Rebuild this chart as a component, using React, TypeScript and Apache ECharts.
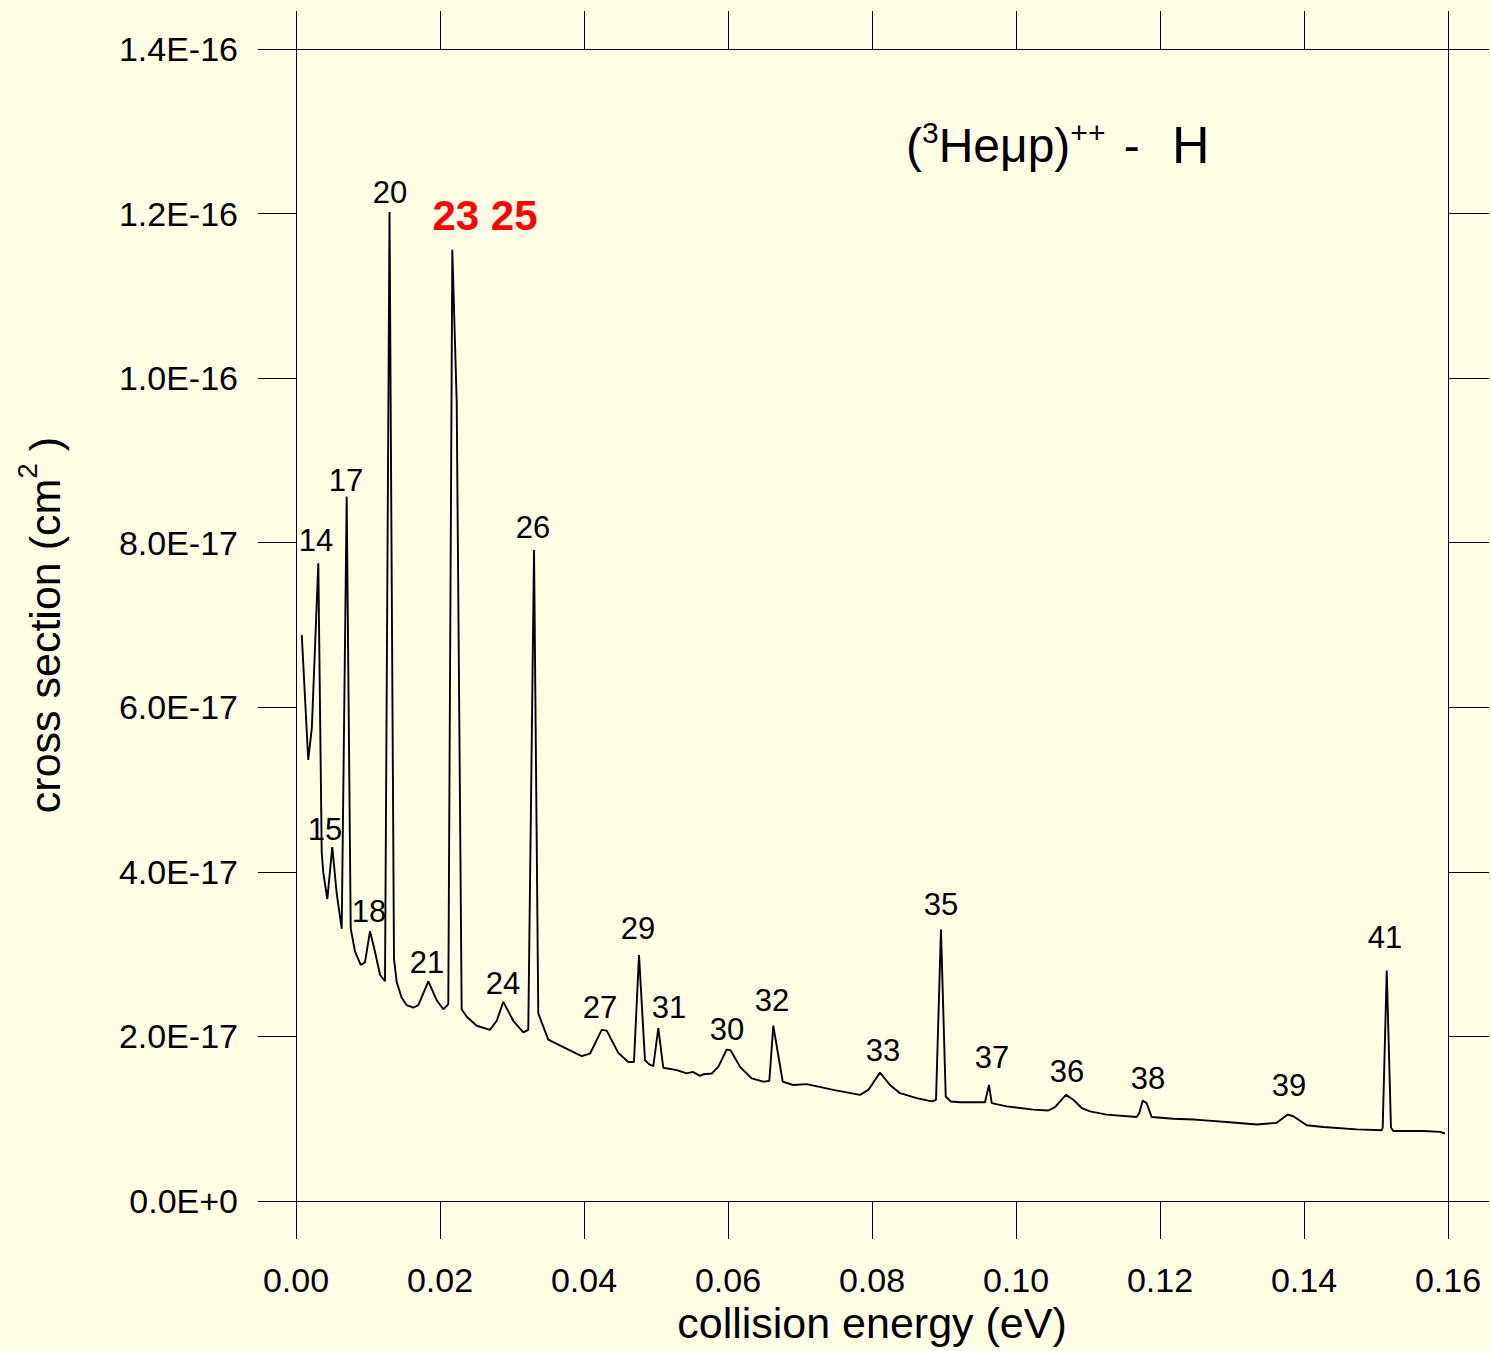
import React, { useEffect, useRef } from "react";
import * as echarts from "echarts";

// collision energy (eV)
const energy = [
  0.0008, 0.0017, 0.0022, 0.0031, 0.00357, 0.00379, 0.00435, 0.00504, 0.00565, 0.00635,
  0.00704, 0.0076, 0.0082, 0.00899, 0.00958, 0.01028, 0.01097, 0.01167, 0.01236, 0.01299,
  0.01361, 0.01399, 0.01468, 0.01538, 0.01629, 0.01699, 0.01838, 0.01954, 0.02046, 0.02115,
  0.02171, 0.02232, 0.02301, 0.02371, 0.0251, 0.02694, 0.02788, 0.02879, 0.03018, 0.03157,
  0.03226, 0.03306, 0.03365, 0.03504, 0.03713, 0.03968, 0.04083, 0.04246, 0.04315, 0.04476,
  0.04615, 0.04694, 0.04764, 0.04847, 0.04907, 0.04963, 0.05032, 0.05101, 0.05288, 0.05426,
  0.0551, 0.05611, 0.05657, 0.05774, 0.05865, 0.05982, 0.06038, 0.06167, 0.06329, 0.0649,
  0.06574, 0.06629, 0.0676, 0.06907, 0.07093, 0.07463, 0.07833, 0.07949, 0.08111, 0.0825,
  0.08389, 0.08621, 0.08829, 0.08889, 0.08958, 0.09024, 0.09093, 0.09222, 0.09569, 0.09625,
  0.09663, 0.09871, 0.1024, 0.10449, 0.10542, 0.10694, 0.10796, 0.10913, 0.11028, 0.1126,
  0.11676, 0.11713, 0.1176, 0.11815, 0.11885, 0.12185, 0.12463, 0.12625, 0.12926, 0.13343,
  0.13621, 0.13774, 0.13851, 0.14038, 0.14268, 0.14732, 0.15079, 0.15093, 0.15149, 0.15208,
  0.1524, 0.15426, 0.15657, 0.15889, 0.15958,
];

// cross section, in units of 1E-17 cm^2
const crossSection = [
  6.88, 5.36, 5.75, 7.75, 4.24, 3.99, 3.67, 4.3, 3.74, 3.31,
  8.56, 3.31, 3.03, 2.87, 2.9, 3.28, 3.03, 2.75, 2.67, 12.02,
  2.94, 2.66, 2.47, 2.38, 2.35, 2.38, 2.67, 2.44, 2.33, 2.39,
  11.56, 9.71, 2.33, 2.24, 2.13, 2.08, 2.19, 2.42, 2.19, 2.05,
  2.08, 7.91, 2.28, 1.96, 1.87, 1.76, 1.79, 2.08, 2.07, 1.8,
  1.69, 1.69, 2.99, 1.71, 1.66, 1.64, 2.1, 1.62, 1.59, 1.55,
  1.57, 1.52, 1.54, 1.55, 1.63, 1.84, 1.83, 1.63, 1.49, 1.45,
  1.46, 2.13, 1.45, 1.41, 1.42, 1.35, 1.29, 1.35, 1.56, 1.41,
  1.31, 1.25, 1.21, 1.23, 3.3, 1.27, 1.21, 1.2, 1.2, 1.41,
  1.19, 1.15, 1.11, 1.1, 1.14, 1.29, 1.23, 1.13, 1.09, 1.05,
  1.02, 1.07, 1.22, 1.19, 1.02, 1.0, 0.99, 0.98, 0.96, 0.93,
  0.95, 1.05, 1.03, 0.92, 0.9, 0.87, 0.86, 0.89, 2.8, 0.89,
  0.85, 0.85, 0.85, 0.84, 0.82,
];

// resonance labels and their anchor positions (energy, cross section in 1E-17)
const peakNames = ["14", "15", "17", "18", "20", "21", "24", "26", "27", "29", "31", "30", "32", "33", "35", "37", "36", "38", "39", "41"];
const peakLabelE = [0.00278, 0.00403, 0.00694, 0.01014, 0.01306, 0.01819, 0.02875, 0.03292, 0.04222, 0.0475, 0.05181, 0.05986, 0.06611, 0.08153, 0.08958, 0.09667, 0.10708, 0.11833, 0.13792, 0.15125];
const peakLabelV = [8.03, 4.51, 8.76, 3.52, 12.26, 2.9, 2.64, 8.19, 2.35, 3.31, 2.35, 2.09, 2.44, 1.83, 3.6, 1.75, 1.57, 1.49, 1.4, 3.2];

const highlightNames = ["23 25"];
const highlightE = [0.02625];
const highlightV = [11.98];

const xTicks = { min: 0, max: 0.16, interval: 0.02 };
const yTicks = { min: 0, max: 14, interval: 2 };
const yTickLabels: Record<number, string> = {
  0: "0.0E+0",
  2: "2.0E-17",
  4: "4.0E-17",
  6: "6.0E-17",
  8: "8.0E-17",
  10: "1.0E-16",
  12: "1.2E-16",
  14: "1.4E-16",
};

const FONT = "'Liberation Sans', Arial, Helvetica, sans-serif";
const BG = "#ffffe6";

export default function App() {
  const ref = useRef<HTMLDivElement>(null);

  useEffect(() => {
    if (!ref.current) return;
    const chart = echarts.init(ref.current, undefined, { renderer: "svg" });

    const lineData = energy.map((e, i) => [e, crossSection[i]]);
    const labelData = peakNames.map((n, i) => ({ name: n, value: [peakLabelE[i], peakLabelV[i]] }));
    const hlData = highlightNames.map((n, i) => ({ name: n, value: [highlightE[i], highlightV[i]] }));

    const axisLine = { show: true, onZero: false, lineStyle: { color: "#000", width: 1 } };
    const tick = (len: number) => ({ show: true, inside: false, length: len, lineStyle: { color: "#000", width: 1 } });
    const tok = (size: number) => ({ fontSize: size, lineHeight: 56, fill: "#000", fontFamily: FONT, verticalAlign: "middle" });

    chart.setOption({
      animation: false,
      backgroundColor: BG,
      textStyle: { fontFamily: FONT },
      grid: { left: 296, right: 43, top: 49, bottom: 150, containLabel: false },
      xAxis: [
        {
          type: "value",
          position: "bottom",
          ...xTicks,
          axisLine,
          axisTick: tick(38),
          axisLabel: {
            show: true,
            margin: 62,
            fontSize: 34,
            color: "#000",
            fontFamily: FONT,
            formatter: (v: number) => v.toFixed(2),
          },
          splitLine: { show: false },
          name: "collision energy (eV)",
          nameLocation: "middle",
          nameGap: 95,
          nameTextStyle: { fontSize: 43, color: "#000", fontFamily: FONT },
        },
        {
          type: "value",
          position: "top",
          ...xTicks,
          axisLine,
          axisTick: tick(38),
          axisLabel: { show: false },
          splitLine: { show: false },
        },
      ],
      yAxis: [
        {
          type: "value",
          position: "left",
          ...yTicks,
          axisLine,
          axisTick: tick(38),
          axisLabel: {
            show: true,
            margin: 58,
            fontSize: 34,
            color: "#000",
            fontFamily: FONT,
            formatter: (v: number) => yTickLabels[Math.round(v)] ?? "",
          },
          splitLine: { show: false },
          name: "{a|cross section (cm}{s|2}{a| )}",
          nameLocation: "middle",
          nameGap: 219,
          nameRotate: 90,
          nameTextStyle: {
            color: "#000",
            fontFamily: FONT,
            rich: {
              a: { fontSize: 43, lineHeight: 64, color: "#000", fontFamily: FONT, verticalAlign: "middle" },
              s: { fontSize: 28, lineHeight: 28, color: "#000", fontFamily: FONT, verticalAlign: "top" },
            },
          },
        },
        {
          type: "value",
          position: "right",
          ...yTicks,
          axisLine,
          axisTick: tick(41),
          axisLabel: { show: false },
          splitLine: { show: false },
        },
      ],
      graphic: [
        {
          type: "text",
          x: 906,
          y: 145,
          style: {
            text: "{a|(}{s|3}{a|Heμp)}{s|++}{g| }{a|-}{k|  }{h|H}",
            align: "left",
            verticalAlign: "middle",
            fill: "#000",
            rich: {
              a: tok(48),
              g: tok(66),
              k: tok(58),
              h: tok(52),
              s: { fontSize: 30, lineHeight: 30, fill: "#000", fontFamily: FONT, verticalAlign: "top" },
            },
          },
        },
      ],
      series: [
        {
          type: "line",
          data: lineData,
          xAxisIndex: 0,
          yAxisIndex: 0,
          showSymbol: false,
          symbol: "none",
          lineStyle: { color: "#000", width: 1.9 },
          clip: true,
          z: 3,
        },
        {
          type: "scatter",
          data: labelData,
          xAxisIndex: 0,
          yAxisIndex: 0,
          symbolSize: 0,
          silent: true,
          itemStyle: { opacity: 1 },
          label: {
            show: true,
            position: "inside",
            formatter: (p: any) => p.name,
            fontSize: 31,
            color: "#000",
            opacity: 1,
            fontFamily: FONT,
          },
          z: 4,
        },
        {
          type: "scatter",
          data: hlData,
          xAxisIndex: 0,
          yAxisIndex: 0,
          symbolSize: 0,
          silent: true,
          itemStyle: { opacity: 1 },
          label: {
            show: true,
            position: "inside",
            formatter: (p: any) => p.name,
            fontSize: 42,
            fontWeight: "bold",
            color: "#ff0000",
            opacity: 1,
            fontFamily: FONT,
          },
          z: 4,
        },
      ],
    });

    return () => chart.dispose();
  }, []);

  return (
    <div
      ref={ref}
      style={{ position: "absolute", left: 0, top: 0, width: 1491, height: 1351, background: BG }}
    />
  );
}
